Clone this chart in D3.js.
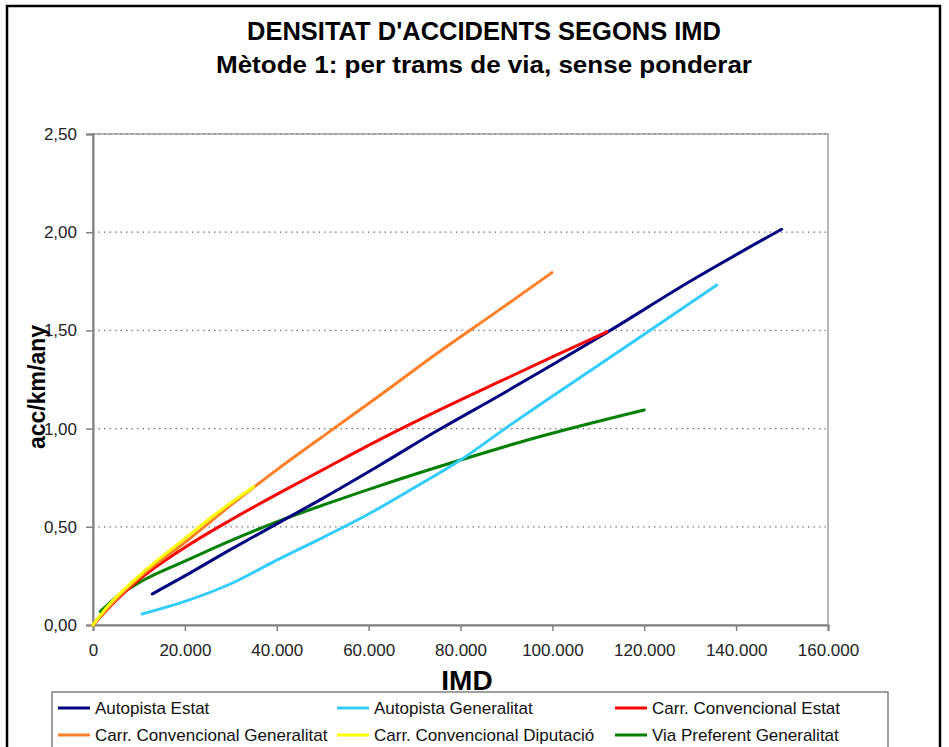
<!DOCTYPE html>
<html>
<head>
<meta charset="utf-8">
<script src="https://cdn.jsdelivr.net/npm/d3@7"></script>
<style>
  html, body { margin: 0; padding: 0; background: #fff; }
  svg { display: block; font-family: "Liberation Sans", Arial, sans-serif; }
</style>
</head>
<body>
<svg id="chart" width="949" height="747"></svg>
<script>
// Series names and colours
const seriesNames = [
  "Autopista Estat",
  "Autopista Generalitat",
  "Carr. Convencional Estat",
  "Carr. Convencional Generalitat",
  "Carr. Convencional Diputació",
  "Via Preferent Generalitat"
];
const seriesColors = ["#000080", "#33CCFF", "#FF0000", "#FF7F27", "#FFFF00", "#008000"];

// [IMD, acc/km/any] points for each series
const autopistaEstat = [
  [12900, 0.158], [20000, 0.25], [30000, 0.385], [40000, 0.515], [50000, 0.645],
  [62500, 0.815], [75000, 0.99], [88600, 1.17], [100000, 1.325], [111900, 1.49],
  [130000, 1.75], [149900, 2.015]
];
const autopistaGeneralitat = [
  [10700, 0.056], [20000, 0.12], [30000, 0.21], [40000, 0.33], [50000, 0.445],
  [60000, 0.565], [70000, 0.70], [80000, 0.84], [90000, 1.005], [100000, 1.165],
  [120000, 1.48], [135800, 1.731]
];
const carrConvEstat = [
  [0, 0], [5000, 0.125], [10000, 0.23], [20000, 0.395], [30000, 0.535], [40000, 0.665],
  [50000, 0.79], [62500, 0.945], [75000, 1.09], [88600, 1.24], [100000, 1.365],
  [111900, 1.493]
];
const carrConvGeneralitat = [
  [0, 0], [5000, 0.13], [10000, 0.24], [20000, 0.42], [30000, 0.61], [40000, 0.79],
  [52400, 1.0], [62500, 1.17], [75000, 1.385], [88600, 1.607], [99900, 1.794]
];
const carrConvDiputacio = [
  [0, 0], [3000, 0.09], [10000, 0.25], [20000, 0.44], [27000, 0.57], [35000, 0.704]
];
const viaPreferentGeneralitat = [
  [1600, 0.068], [5000, 0.14], [10000, 0.215], [20000, 0.325], [30000, 0.43],
  [40000, 0.525], [50000, 0.61], [62500, 0.71], [80000, 0.84], [95200, 0.946],
  [120000, 1.095]
];
const seriesValues = [
  autopistaEstat, autopistaGeneralitat, carrConvEstat,
  carrConvGeneralitat, carrConvDiputacio, viaPreferentGeneralitat
];

// Axis ticks
const xTicks = [0, 20000, 40000, 60000, 80000, 100000, 120000, 140000, 160000];
const yTicks = [0, 0.5, 1.0, 1.5, 2.0, 2.5];

const titleText = "DENSITAT D'ACCIDENTS SEGONS IMD";
const subtitleText = "Mètode 1: per trams de via, sense ponderar";
const xTitle = "IMD";
const yTitle = "acc/km/any";

// Catalan number formatting: comma decimals, dot thousands
const locale = d3.formatLocale({ decimal: ",", thousands: ".", grouping: [3], currency: ["", " €"] });
const fmtY = locale.format(".2f");
const fmtX = locale.format(",.0f");

const svg = d3.select("#chart");

// outer frame
svg.append("rect")
  .attr("x", 7).attr("y", 6).attr("width", 933).attr("height", 780)
  .attr("fill", "#fff").attr("stroke", "#000").attr("stroke-width", 2.5);

const plot = { left: 93, right: 828, top: 134, bottom: 625 };

const x = d3.scaleLinear().domain([0, 160000]).range([plot.left, plot.right]);
const y = d3.scaleLinear().domain([0, 2.5]).range([plot.bottom, plot.top]);

// titles
svg.append("text")
  .attr("x", 484).attr("y", 40)
  .attr("text-anchor", "middle")
  .attr("font-weight", "bold").attr("font-size", 26)
  .attr("textLength", 474).attr("lengthAdjust", "spacingAndGlyphs")
  .attr("fill", "#000")
  .text(titleText);
svg.append("text")
  .attr("x", 484).attr("y", 73)
  .attr("text-anchor", "middle")
  .attr("font-weight", "bold").attr("font-size", 24)
  .attr("textLength", 536).attr("lengthAdjust", "spacingAndGlyphs")
  .attr("fill", "#000")
  .text(subtitleText);

// plot area border
svg.append("rect")
  .attr("x", plot.left).attr("y", plot.top)
  .attr("width", plot.right - plot.left).attr("height", plot.bottom - plot.top)
  .attr("fill", "#fff").attr("stroke", "#a0a0a0").attr("stroke-width", 1.5);

// dotted gridlines
svg.append("g")
  .selectAll("line")
  .data(yTicks.filter(d => d > 0))
  .join("line")
  .attr("x1", plot.left).attr("x2", plot.right)
  .attr("y1", d => y(d)).attr("y2", d => y(d))
  .attr("stroke", "#777").attr("stroke-width", 1.2)
  .attr("stroke-dasharray", "1.5,4");

// axes
const xAxis = svg.append("g")
  .attr("transform", `translate(0,${plot.bottom})`)
  .call(d3.axisBottom(x).tickValues(xTicks).tickFormat(fmtX).tickSize(6).tickPadding(8));
const yAxis = svg.append("g")
  .attr("transform", `translate(${plot.left},0)`)
  .call(d3.axisLeft(y).tickValues(yTicks).tickFormat(fmtY).tickSize(7).tickPadding(9));

[xAxis, yAxis].forEach(g => {
  g.select(".domain").attr("stroke", "#808080").attr("stroke-width", 2);
  g.selectAll(".tick line").attr("stroke", "#808080").attr("stroke-width", 1.5);
  g.selectAll(".tick text")
    .attr("fill", "#222")
    .attr("font-size", 17)
    .attr("font-family", "'Liberation Sans', Arial, sans-serif");
});
xAxis.selectAll(".tick text").attr("dy", "1em");

// axis titles
svg.append("text")
  .attr("x", 467).attr("y", 690)
  .attr("text-anchor", "middle")
  .attr("font-weight", "bold").attr("font-size", 28)
  .text(xTitle);
svg.append("text")
  .attr("transform", "translate(45,387) rotate(-90)")
  .attr("text-anchor", "middle")
  .attr("font-weight", "bold").attr("font-size", 23)
  .text(yTitle);

// series lines
const line = d3.line()
  .x(d => x(d[0]))
  .y(d => y(d[1]))
  .curve(d3.curveMonotoneX);

const drawOrder = [5, 0, 1, 2, 3, 4];
svg.append("g")
  .selectAll("path")
  .data(drawOrder)
  .join("path")
  .attr("d", i => line(seriesValues[i]))
  .attr("fill", "none")
  .attr("stroke", i => seriesColors[i])
  .attr("stroke-width", 3)
  .attr("stroke-linecap", "round")
  .attr("stroke-linejoin", "round");

// legend
const legend = svg.append("g");
legend.append("rect")
  .attr("x", 52).attr("y", 692).attr("width", 836).attr("height", 80)
  .attr("fill", "#fff").attr("stroke", "#808080").attr("stroke-width", 1.5);

const colX = [58, 337, 615];
const rowY = [708, 735];
const items = legend.selectAll("g.item")
  .data(seriesNames.map((name, i) => ({ name, i })))
  .join("g")
  .attr("class", "item")
  .attr("transform", d => `translate(${colX[d.i % 3]},${rowY[Math.floor(d.i / 3)]})`);
items.append("line")
  .attr("x1", 0).attr("x2", 32).attr("y1", 0).attr("y2", 0)
  .attr("stroke", d => seriesColors[d.i]).attr("stroke-width", 3);
items.append("text")
  .attr("x", 37).attr("y", 0).attr("dy", "0.35em")
  .attr("font-size", 17).attr("fill", "#111")
  .text(d => d.name);
</script>
</body>
</html>
